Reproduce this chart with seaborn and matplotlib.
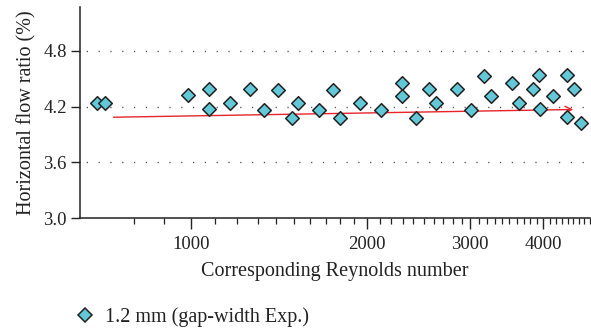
import matplotlib
matplotlib.use("Agg")
import matplotlib.pyplot as plt
import matplotlib.ticker as mticker
import seaborn as sns
import pandas as pd

# Reynolds number / horizontal flow ratio (%), 1.2 mm gap-width experiment
reynolds = [693, 713, 990, 1076, 1076, 1167, 1262, 1334, 1407, 1487, 1526,
            1655, 1750, 1800, 1948, 2110, 2290, 2290, 2423, 2553, 2627,
            2843, 3004, 3170, 3254, 3530, 3631, 3834, 3928, 3943, 4159,
            4394, 4380, 4506, 4628]
flow_ratio = [4.235, 4.235, 4.32, 4.385, 4.168, 4.243, 4.385, 4.16, 4.38,
              4.08, 4.24, 4.16, 4.38, 4.08, 4.24, 4.16, 4.457, 4.318, 4.08,
              4.385, 4.24, 4.385, 4.16, 4.53, 4.31, 4.457, 4.243, 4.389,
              4.54, 4.168, 4.31, 4.535, 4.09, 4.385, 4.018]

# trend arrow (start / end)
trend_re = [738, 4496]
trend_ratio = [4.085, 4.168]

x_ticks = [1000, 2000, 3000, 4000]
x_minor = [v for v in range(800, 4801, 100) if v not in x_ticks]
y_ticks = [3.0, 3.6, 4.2, 4.8]

df = pd.DataFrame({"Re": reynolds, "ratio": flow_ratio})

sns.set_style("white")
plt.rcParams["font.family"] = ["Liberation Serif", "DejaVu Serif"]

fig = plt.figure(figsize=(5.91, 3.32), dpi=100)
ax = fig.add_axes([0.1354, 0.3425, 0.8626, 0.6355])

sns.scatterplot(data=df, x="Re", y="ratio", marker="D", s=48,
                color="#62c7d7", edgecolor="#222222", linewidth=1.1,
                ax=ax, zorder=3, legend=False)

ax.set_xscale("log")
ax.set_xlim(647, 4800)
ax.set_ylim(3.0, 5.265)

ax.annotate("", xy=(trend_re[1], trend_ratio[1]),
            xytext=(trend_re[0], trend_ratio[0]),
            arrowprops=dict(arrowstyle="->", color="#e8242a", lw=1.0,
                            mutation_scale=12, shrinkA=0, shrinkB=0),
            zorder=2)

for yv in y_ticks[1:]:
    ax.axhline(yv, color="#555555", lw=1.0, linestyle=(4, (0.9, 7.6)), zorder=1)

ax.xaxis.set_major_locator(mticker.FixedLocator(x_ticks))
ax.xaxis.set_major_formatter(mticker.FixedFormatter([str(v) for v in x_ticks]))
ax.xaxis.set_minor_locator(mticker.FixedLocator(x_minor))
ax.xaxis.set_minor_formatter(mticker.NullFormatter())
ax.set_yticks(y_ticks)
ax.set_yticklabels([f"{v:.1f}" for v in y_ticks])

for side in ["top", "right"]:
    ax.spines[side].set_visible(False)
for side in ["left", "bottom"]:
    ax.spines[side].set_color("#222222")
    ax.spines[side].set_linewidth(1.1)

ax.tick_params(axis="x", which="both", bottom=True)
ax.tick_params(axis="y", which="both", left=True)
ax.tick_params(axis="both", which="major", direction="out", length=6.5,
               width=1.0, color="#222222", labelsize=13.5, labelcolor="#222222")
ax.tick_params(axis="x", which="major", length=8, pad=5)
ax.tick_params(axis="x", which="minor", direction="out", length=4,
               width=0.9, color="#222222")
ax.tick_params(axis="y", which="major", pad=3)

ax.set_xlabel("Corresponding Reynolds number", fontsize=14.5, color="#222222",
              labelpad=6)
ax.set_ylabel("Horizontal flow ratio (%)", fontsize=14.5, color="#222222",
              labelpad=5)

handle = plt.Line2D([], [], marker="D", linestyle="none", markersize=7,
                    markerfacecolor="#62c7d7", markeredgecolor="#222222",
                    markeredgewidth=1.1)
fig.legend([handle], ["1.2 mm (gap-width Exp.)"], loc="lower left",
           bbox_to_anchor=(0.092, -0.04), frameon=False, fontsize=14.5,
           handletextpad=0.4, handlelength=1.2, labelcolor="#222222")

fig.savefig("out.png", dpi=100)
